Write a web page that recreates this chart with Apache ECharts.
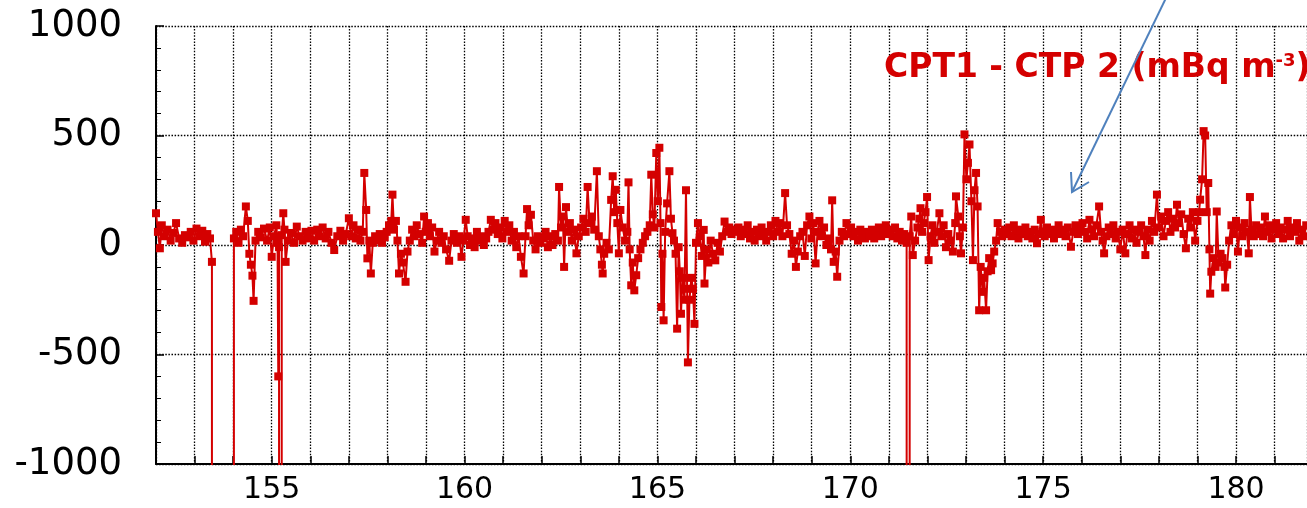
<!DOCTYPE html>
<html>
<head>
<meta charset="utf-8">
<script src="https://cdn.jsdelivr.net/npm/echarts@6/dist/echarts.min.js"></script>
<style>html,body{margin:0;padding:0;background:#fff}#c{width:1307px;height:508px}</style>
</head>
<body>
<div id="c"></div>
<script>
// Axis settings
const xMin = 152, xMax = 181.84, xStep = 1, xLabelEvery = 5;
const yMin = -1000, yMax = 1000, yStep = 500;
const annotationText = 'CPT1 - CTP 2 (mBq m';
const annotationSup = '-3';

// CPT1 - CTP2 difference, [day, mBq m-3] (values far below -1000 leave the plot)
const seg152 = [[152.00,145],[152.05,60],[152.1,-15],[152.15,90],[152.22,40],[152.3,70],[152.38,20],[152.45,55],[152.52,100],[152.6,30],[152.68,10],[152.75,45],[152.82,35],[152.9,60],[152.97,20]];
const seg153 = [[153.05,75],[153.12,40],[153.2,65],[153.27,15],[153.33,50],[153.4,30],[153.45,-77],[153.73,-1000000],[154.02,30],[154.08,60],[154.14,10],[154.2,70],[154.26,40],[154.33,176],[154.38,110],[154.42,-40],[154.46,-90],[154.5,-140],[154.53,-255],[154.58,20],[154.65,60],[154.72,35],[154.8,75],[154.88,20],[154.95,80]];
const seg155 = [[155.0,-54],[155.06,40],[155.12,90],[155.15,10],[155.17,-600],[155.19,-10],[155.22,-200000],[155.26,45],[155.3,145],[155.33,70],[155.36,-77],[155.42,20],[155.5,55],[155.58,10],[155.65,84],[155.72,40],[155.8,20],[155.88,60],[155.95,30]];
const seg156 = [[156.03,65],[156.1,20],[156.18,70],[156.25,40],[156.32,80],[156.4,30],[156.47,60],[156.55,10],[156.62,-23],[156.7,40],[156.78,65],[156.85,20],[156.92,50],[157.0,122]];
const seg157 = [[157.06,40],[157.12,90],[157.18,30],[157.24,70],[157.3,20],[157.36,60],[157.4,329],[157.45,160],[157.48,-61],[157.53,20],[157.57,-130],[157.62,10],[157.68,40],[157.74,20],[157.8,50],[157.86,10],[157.93,35],[157.98,60]];
const seg158 = [[158.04,90],[158.1,110],[158.13,230],[158.17,70],[158.22,110],[158.26,20],[158.3,-130],[158.35,-40],[158.4,-80],[158.47,-168],[158.52,-30],[158.58,20],[158.64,70],[158.7,40],[158.76,90],[158.82,50],[158.9,10],[158.95,130],[158.99,60]];
const seg159 = [[159.05,100],[159.1,40],[159.16,80],[159.22,-30],[159.28,20],[159.34,60],[159.4,10],[159.46,40],[159.52,-20],[159.6,-72],[159.66,20],[159.72,50],[159.8,10],[159.86,40],[159.92,-54],[159.97,20]];
const seg160 = [[160.03,115],[160.08,40],[160.14,0],[160.2,30],[160.26,-10],[160.32,60],[160.38,20],[160.44,40],[160.5,0],[160.56,30],[160.62,60],[160.68,115],[160.74,70],[160.8,100],[160.86,50],[160.92,80],[160.98,30]];
const seg161 = [[161.04,110],[161.1,60],[161.16,90],[161.22,20],[161.28,60],[161.34,-10],[161.4,40],[161.46,-54],[161.53,-130],[161.58,40],[161.62,164],[161.66,90],[161.72,138],[161.78,20],[161.84,-20],[161.9,40],[161.96,10]];
const seg162 = [[162.03,30],[162.1,60],[162.16,-10],[162.22,40],[162.28,0],[162.35,50],[162.42,20],[162.45,265],[162.5,80],[162.55,130],[162.58,-100],[162.63,173],[162.68,60],[162.73,100],[162.78,20],[162.84,70],[162.9,-38],[162.96,40]];
const seg163 = [[163.02,80],[163.08,120],[163.14,60],[163.19,265],[163.24,100],[163.3,130],[163.36,70],[163.43,337],[163.48,40],[163.52,-20],[163.56,-90],[163.58,-130],[163.62,-40],[163.68,10],[163.74,-20],[163.8,206],[163.84,314],[163.88,150],[163.92,252],[163.96,100],[164.0,-38]];
const seg164 = [[164.04,160],[164.1,80],[164.16,20],[164.22,60],[164.25,286],[164.28,-20],[164.32,-184],[164.36,-80],[164.4,-207],[164.45,-138],[164.5,-60],[164.56,-20],[164.62,10],[164.68,40],[164.74,60],[164.8,90],[164.84,321],[164.88,140],[164.92,80],[164.97,420],[165.01,200]];
const seg165 = [[165.05,444],[165.08,100],[165.1,-283],[165.13,-40],[165.16,-344],[165.2,60],[165.25,190],[165.31,337],[165.35,120],[165.39,54],[165.43,20],[165.47,-40],[165.51,-382],[165.55,-10],[165.58,-120],[165.61,-314],[165.65,-150],[165.7,-250],[165.74,250],[165.77,-200],[165.79,-536],[165.83,-250],[165.88,-150],[165.92,-200],[165.96,-360],[166.0,10]];
const seg166 = [[166.05,100],[166.1,40],[166.15,-50],[166.2,69],[166.22,-176],[166.27,-20],[166.32,-80],[166.38,20],[166.44,-40],[166.5,-70],[166.56,10],[166.62,-30],[166.68,40],[166.74,107],[166.8,60],[166.86,80],[166.92,50],[166.98,70]];
const seg167 = [[167.04,60],[167.1,80],[167.16,40],[167.22,70],[167.28,50],[167.34,90],[167.4,30],[167.46,60],[167.52,20],[167.58,70],[167.64,40],[167.7,80],[167.76,50],[167.82,20],[167.88,60],[167.94,90],[168.0,40]];
const seg168 = [[168.06,110],[168.12,60],[168.18,100],[168.24,40],[168.31,237],[168.36,90],[168.42,50],[168.48,-40],[168.54,20],[168.59,-100],[168.64,-30],[168.7,40],[168.76,60],[168.82,-50],[168.88,90],[168.94,130],[168.99,30]];
const seg169 = [[169.04,100],[169.1,-84],[169.15,60],[169.2,110],[169.26,40],[169.32,80],[169.38,0],[169.44,30],[169.5,-20],[169.53,204],[169.57,-77],[169.62,-30],[169.66,-145],[169.72,20],[169.78,60],[169.84,40],[169.9,100],[169.96,50]];
const seg170 = [[170.02,80],[170.08,40],[170.14,60],[170.2,20],[170.26,70],[170.32,50],[170.38,30],[170.44,60],[170.5,40],[170.56,70],[170.62,30],[170.68,50],[170.74,80],[170.8,40],[170.86,60],[170.92,90],[170.98,50]];
const seg171 = [[171.04,70],[171.1,40],[171.16,80],[171.22,30],[171.28,60],[171.34,20],[171.4,50],[171.46,10],[171.5,-40000],[171.54,40],[171.58,130],[171.62,-46],[171.68,20],[171.74,80],[171.79,120],[171.82,168],[171.86,60],[171.9,100],[171.95,150],[171.99,219]];
const seg172 = [[172.03,-69],[172.08,40],[172.13,90],[172.18,10],[172.24,60],[172.31,145],[172.36,40],[172.42,90],[172.48,-10],[172.54,50],[172.6,20],[172.66,-30],[172.72,100],[172.74,222],[172.8,130],[172.84,40],[172.87,-38],[172.92,80],[172.96,505]];
const seg173 = [[173.01,300],[173.05,375],[173.09,459],[173.14,200],[173.18,-69],[173.22,250],[173.26,329],[173.3,176],[173.34,-298],[173.38,-100],[173.43,-214],[173.47,-150],[173.52,-298],[173.56,-120],[173.6,-60],[173.65,-115],[173.69,-84],[173.73,-30],[173.78,20],[173.82,100],[173.88,60],[173.94,40]];
const seg174 = [[174.0,70],[174.06,50],[174.12,80],[174.18,40],[174.24,90],[174.3,60],[174.36,30],[174.42,70],[174.48,50],[174.54,80],[174.6,40],[174.66,60],[174.72,30],[174.78,70],[174.84,8],[174.9,50],[174.94,115],[174.98,60]];
const seg175 = [[175.04,40],[175.1,80],[175.16,50],[175.22,70],[175.28,30],[175.34,60],[175.4,90],[175.46,50],[175.52,70],[175.58,40],[175.64,80],[175.72,-8],[175.78,60],[175.84,90],[175.9,50],[175.96,70]];
const seg176 = [[176.02,100],[176.08,60],[176.14,30],[176.2,115],[176.26,70],[176.32,40],[176.38,90],[176.45,176],[176.5,60],[176.54,20],[176.58,-38],[176.64,40],[176.7,80],[176.76,50],[176.82,90],[176.88,30],[176.94,60],[177.0,-20]];
const seg177 = [[177.06,70],[177.13,-38],[177.18,50],[177.24,90],[177.3,30],[177.36,70],[177.42,10],[177.48,60],[177.54,90],[177.6,40],[177.65,-46],[177.7,70],[177.76,20],[177.82,110],[177.88,60],[177.95,230]];
const seg178 = [[178.0,80],[178.06,130],[178.12,40],[178.18,110],[178.24,150],[178.3,60],[178.36,120],[178.42,80],[178.47,184],[178.52,100],[178.58,140],[178.64,50],[178.7,-15],[178.76,120],[178.82,80],[178.88,150],[178.94,20],[179.0,110]];
const seg179 = [[179.04,150],[179.07,207],[179.12,300],[179.16,520],[179.2,500],[179.24,150],[179.28,283],[179.31,-20],[179.33,-222],[179.36,-122],[179.42,-60],[179.47,-100],[179.5,153],[179.55,-80],[179.6,-40],[179.65,-60],[179.7,-100],[179.72,-194],[179.77,-90],[179.82,20],[179.88,90],[179.94,50],[180.0,110]];
const seg180 = [[180.05,-30],[180.1,80],[180.16,40],[180.22,100],[180.28,60],[180.33,-38],[180.36,219],[180.4,70],[180.46,40],[180.52,90],[180.58,50],[180.64,80],[180.7,40],[180.75,130],[180.8,60],[180.86,90],[180.92,30],[180.98,70]];
const seg181 = [[181.04,100],[181.1,50],[181.16,80],[181.22,30],[181.28,70],[181.34,110],[181.4,40],[181.46,80],[181.52,60],[181.58,100],[181.64,20],[181.7,70],[181.76,40],[181.82,90],[181.88,60]];

const segments = [seg152,seg153,seg155,seg156,seg157,seg158,seg159,seg160,seg161,seg162,seg163,seg164,seg165,seg166,seg167,seg168,seg169,seg170,seg171,seg172,seg173,seg174,seg175,seg176,seg177,seg178,seg179,seg180,seg181];
const diffData = [].concat(...segments);

const RED = '#d40000';
const FONT = '"DejaVu Sans", sans-serif';
const chart = echarts.init(document.getElementById('c'), null, {renderer: 'canvas'});
const dotted = {color: '#000', width: 1.3, type: [1.5, 1.6]};

chart.setOption({
  animation: false,
  backgroundColor: '#fff',
  grid: {left: 156, right: 0, top: 26, bottom: 44, containLabel: false},
  xAxis: {
    type: 'value', min: xMin, max: xMax, interval: xStep,
    axisLine: {show: true, onZero: false, lineStyle: {color: '#000', width: 2}},
    axisTick: {show: true, inside: true, length: 8, lineStyle: {color: '#000', width: 1.5}},
    axisLabel: {
      color: '#000', fontFamily: FONT, fontSize: 30, margin: 11,
      showMinLabel: false, showMaxLabel: false,
      formatter: v => (Math.abs(v % xLabelEvery) < 1e-6 ? String(Math.round(v)) : '')
    },
    splitLine: {show: true, lineStyle: dotted}
  },
  yAxis: {
    type: 'value', min: yMin, max: yMax, interval: yStep,
    axisLine: {show: true, onZero: false, lineStyle: {color: '#000', width: 2}},
    axisTick: {show: true, inside: true, length: 8, lineStyle: {color: '#000', width: 1.5}},
    minorTick: {show: true, splitNumber: 5, length: 5, lineStyle: {color: '#000', width: 1}},
    axisLabel: {color: '#000', fontFamily: FONT, fontSize: 37, margin: 34, formatter: v => String(v)},
    splitLine: {show: true, lineStyle: dotted}
  },
  series: [{
    type: 'line',
    data: diffData,
    clip: true,
    symbol: 'rect', symbolSize: 8, showSymbol: true,
    itemStyle: {color: RED},
    lineStyle: {color: RED, width: 2},
    z: 3
  }],
  graphic: [
    {
      type: 'text', left: 884, top: 52, z: 10,
      style: {
        text: '{a|' + annotationText + '}{s|' + annotationSup + '}{a|)}',
        rich: {
          a: {fontFamily: FONT, fontWeight: 'bold', fontSize: 33, fill: RED, verticalAlign: 'bottom'},
          s: {fontFamily: FONT, fontWeight: 'bold', fontSize: 18, fill: RED, verticalAlign: 'top'}
        }
      }
    },
    {
      type: 'polyline', z: 10, silent: true,
      shape: {points: [[1166, -2], [1072, 192]]},
      style: {stroke: '#4f81bd', lineWidth: 2, fill: null}
    },
    {
      type: 'polyline', z: 10, silent: true,
      shape: {points: [[1071, 172], [1072, 192], [1089, 182]]},
      style: {stroke: '#4f81bd', lineWidth: 2, fill: null}
    }
  ]
});
</script>
</body>
</html>
